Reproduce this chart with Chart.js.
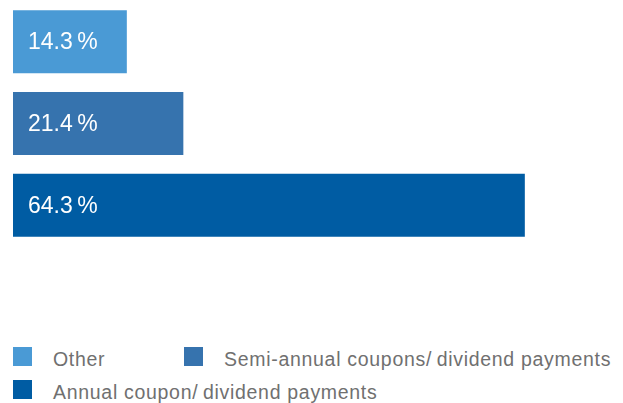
<!DOCTYPE html>
<html>
<head>
<meta charset="utf-8">
<script src="https://cdn.jsdelivr.net/npm/chart.js@4"></script>
<style>
  html, body { margin: 0; padding: 0; background: #fff; }
  body { width: 623px; height: 403px; position: relative; overflow: hidden; font-family: 'Liberation Sans', Arial, sans-serif; }
  #chartBox { position: absolute; left: 0; top: 0; width: 623px; height: 250px; }
  #legend { position: absolute; left: 13px; top: 347px; display: grid; grid-template-columns: 171px auto; row-gap: 14px; }
  .item { display: flex; align-items: flex-end; white-space: nowrap; color: #707070; font-size: 19.5px; letter-spacing: 0.7px; height: 19px; line-height: 19px; }
  .sw { width: 19px; height: 19px; margin-right: 21px; flex: none; }
  .txt { position: relative; top: 3px; }
</style>
</head>
<body>
<div id="chartBox"><canvas id="barChart"></canvas></div>
<div id="legend"></div>
<script>
// Datos
const categories = ['Other', 'Semi-annual coupons/\u2009dividend payments', 'Annual coupon/\u2009dividend payments'];
const shares     = [14.3, 21.4, 64.3];
const colors     = ['#4a9ad5', '#3673ae', '#005ca3'];

// Leyenda
const legend = document.getElementById('legend');
categories.forEach((c, i) => {
  const el = document.createElement('div');
  el.className = 'item';
  el.innerHTML = '<span class="sw" style="background:' + colors[i] + '"></span><span class="txt">' + c + '</span>';
  legend.appendChild(el);
});

// Etiquetas dentro de las barras
const valueLabels = {
  id: 'valueLabels',
  afterDatasetsDraw(chart) {
    const ctx = chart.ctx;
    ctx.save();
    ctx.fillStyle = '#fff';
    ctx.font = '23px "Liberation Sans", Arial, sans-serif';
    ctx.textBaseline = 'middle';
    chart.getDatasetMeta(0).data.forEach((bar, i) => {
      ctx.fillText(shares[i].toFixed(1) + '\u2009%', chart.chartArea.left + 15, bar.y + 1);
    });
    ctx.restore();
  }
};

new Chart(document.getElementById('barChart'), {
  type: 'bar',
  data: {
    labels: categories,
    datasets: [{
      data: shares,
      backgroundColor: colors,
      borderWidth: 0,
      categoryPercentage: 1,
      barPercentage: 0.771
    }]
  },
  options: {
    indexAxis: 'y',
    responsive: true,
    maintainAspectRatio: false,
    animation: false,
    layout: { padding: { left: 13, right: 13, top: 1, bottom: 4 } },
    plugins: { legend: { display: false }, tooltip: { enabled: false } },
    scales: {
      x: { display: false, min: 0, max: 75 },
      y: { display: false }
    }
  },
  plugins: [valueLabels]
});
</script>
</body>
</html>
